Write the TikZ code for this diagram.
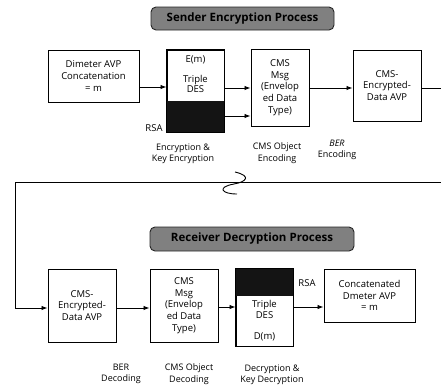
\documentclass[tikz,border=0pt]{standalone}
\usepackage{fontspec}
\setmainfont{Open Sans}
\usetikzlibrary{arrows.meta}
\tikzset{
  box/.style={draw=black, line width=1pt, fill=white, inner sep=0pt, align=center, font=\fontsize{9.5}{11.8}\selectfont},
  lbl/.style={align=center, inner sep=0pt, font=\fontsize{9}{11.5}\selectfont},
  banner/.style={draw=black!85, line width=0.9pt, fill=black!50, rounded corners=5pt, inner sep=0pt, font=\fontsize{11.5}{13}\selectfont\bfseries, text=black},
  arr/.style={line width=0.9pt, -{Latex[length=6pt,width=4.5pt]}},
  ln/.style={line width=0.9pt},
  dark/.style={fill=black!92}
}
\begin{document}
\begin{tikzpicture}[x=1pt,y=-1pt]
\useasboundingbox (0,0) rectangle (441,391);
% banners
\node[banner, minimum width=183pt, minimum height=23pt] (b1) at (242.5,18.5) {Sender Encryption Process};
\node[banner, minimum width=204pt, minimum height=24pt] (b2) at (252,239) {Receiver Decryption Process};

% top row
\node[box, minimum width=91pt, minimum height=52pt] (dim) at (93.5,76) {Dimeter AVP\\Concatenation\\= m};
\node[box, minimum width=57pt, minimum height=82pt] (des1) at (195.5,91) {};
\fill[dark] (167,101) rectangle (224,132);
\draw[line width=1pt] (des1.north west) rectangle (des1.south east);
\node[lbl, font=\fontsize{9.5}{10}\selectfont] (em) at (195.5,60) {E(m)};
\node[lbl, font=\fontsize{9.5}{9.5}\selectfont] (tdes1) at (195.5,84) {Triple\\DES};
\node[lbl, font=\fontsize{9.5}{11}\selectfont] (rsa1) at (154,128) {RSA};
\node[box, minimum width=58pt, minimum height=77pt] (msg1) at (280,87.5) {CMS\\Msg\\(Envelop\\ed Data\\Type)};
\node[box, minimum width=68pt, minimum height=71pt] (enc1) at (387,85.5) {CMS-\\Encrypted-\\Data AVP};
\coordinate (out1) at (441,88);

\draw[arr] (dim.east |- 0,87) -- (des1.west |- 0,87);
\draw[arr] (des1.east |- 0,88) -- (msg1.west |- 0,88);
\draw[arr] (des1.east |- 0,116) -- (msg1.west |- 0,116);
\draw[arr] (msg1.east |- 0,88) -- (enc1.west |- 0,88);
\draw[ln] (enc1.east |- 0,88) -- (out1);

\node[lbl] (l1) at (183,154) {Encryption \&\\Key Encryption};
\node[lbl] (l2) at (277,153) {CMS Object\\Encoding};
\node[lbl] (l3) at (337,150) {\textit{BER}\\Encoding};

% separator with break
\coordinate (sepR) at (441,182);
\coordinate (sepL) at (15,182);
\coordinate (sepB) at (15,308);
\draw[ln] (sepR) -- (sepL) -- (sepB);
\draw[ln] (235,172) .. controls (252,176) and (246,182) .. (234,184) .. controls (217,187) and (221,194) .. (237,194);

% bottom row
\node[box, minimum width=68pt, minimum height=73pt] (enc2) at (82,305.5) {CMS-\\Encrypted-\\Data AVP};
\node[box, minimum width=68pt, minimum height=73pt] (msg2) at (184,305.5) {CMS\\Msg\\(Envelop\\ed Data\\Type)};
\node[box, minimum width=57pt, minimum height=77pt] (des2) at (264.5,307.5) {};
\fill[dark] (236,269) rectangle (293,296);
\draw[line width=1pt] (des2.north west) rectangle (des2.south east);
\node[lbl, font=\fontsize{9.5}{11}\selectfont] (tdes2) at (264.5,309) {Triple\\DES};
\node[lbl, font=\fontsize{9.5}{11}\selectfont] (dm) at (264.5,337) {D(m)};
\node[lbl, font=\fontsize{9.5}{11}\selectfont] (rsa2) at (307,283) {RSA};
\node[box, minimum width=91pt, minimum height=53pt] (conc) at (369.5,295.5) {Concatenated\\Dmeter AVP\\= m};

\draw[arr] (sepB) -- (enc2.west |- sepB);
\draw[arr] (enc2.east |- 0,308) -- (msg2.west |- 0,308);
\draw[arr] (msg2.east |- 0,307) -- (des2.west |- 0,307);
\draw[arr] (des2.east |- 0,307) -- (conc.west |- 0,307);

\node[lbl] (l4) at (121,374) {BER\\Decoding};
\node[lbl] (l5) at (189,374) {CMS Object\\Decoding};
\node[lbl] (l6) at (272,375) {Decryption \&\\Key Decryption};
\end{tikzpicture}
\end{document}
